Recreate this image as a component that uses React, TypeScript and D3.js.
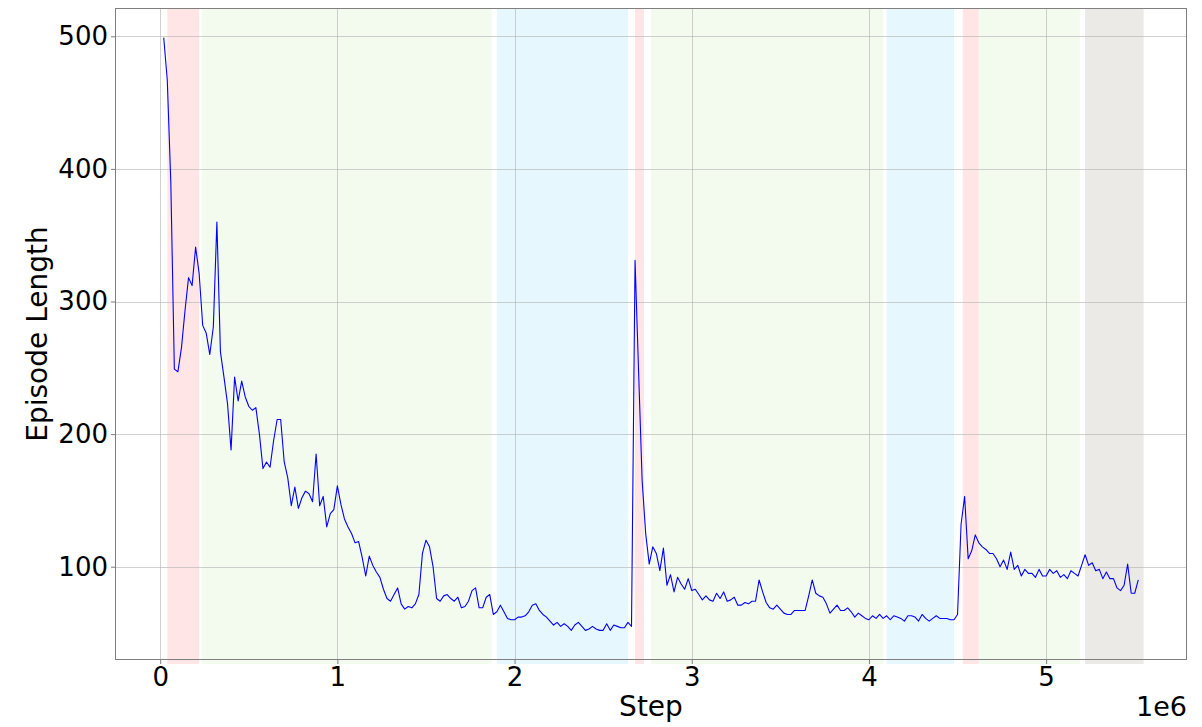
import React, { useRef, useEffect } from 'react';
import * as d3 from 'd3';

// episode length, one value every 20000 steps starting at 20000
const episodeLength: number[] = [
  499, 467, 390, 249, 247, 265, 293, 318, 312, 341,
  321, 282, 276, 260, 281, 360, 262, 243, 223, 188,
  243, 225, 240, 228, 221, 218, 220, 200, 174, 179,
  175, 195, 211, 211, 179, 167, 146, 160, 144, 152,
  157, 155, 149, 185, 146, 153, 130, 140, 143, 161,
  147, 136, 130, 125, 118, 119, 107, 93, 108, 101,
  96, 92, 83, 76, 74, 79, 84, 72, 68, 70,
  69, 72, 79, 110, 120, 115, 100, 76, 74, 78,
  79, 76, 74, 77, 69, 70, 74, 82, 84, 69,
  69, 77, 79, 64, 66, 71, 66, 61, 60, 60,
  62, 62, 63, 66, 71, 72, 67, 64, 62, 59,
  56, 58, 55, 57, 55, 52, 56, 58, 55, 52,
  53, 55, 53, 52, 52, 57, 52, 56, 55, 54,
  54, 58, 55, 331, 247, 165, 125, 102, 115, 110,
  97, 114, 86, 94, 81, 92, 87, 83, 91, 82,
  83, 79, 75, 78, 75, 74, 80, 76, 81, 74,
  75, 77, 71, 71, 73, 72, 74, 74, 90, 81,
  73, 69, 68, 71, 68, 65, 64, 64, 67, 67,
  67, 67, 78, 90, 80, 78, 77, 72, 65, 68,
  71, 67, 67, 69, 66, 62, 65, 63, 61, 60,
  63, 61, 64, 61, 63, 60, 63, 62, 61, 59,
  63, 63, 62, 59, 64, 61, 59, 61, 63, 61,
  61, 61, 60, 60, 64, 132, 153, 106, 112, 124,
  118, 115, 113, 110, 110, 106, 100, 105, 98, 111,
  98, 101, 93, 98, 95, 95, 92, 98, 93, 93,
  98, 95, 97, 92, 94, 91, 97, 95, 93, 101,
  109, 101, 103, 97, 98, 91, 96, 91, 91, 84,
  82, 86, 102, 80, 80, 90,
];

// shaded phases (step ranges)
const bandStart = [40000, 235000, 1900000, 2680000, 2770000, 4100000, 4530000, 4620000, 5220000];
const bandEnd = [220000, 1870000, 2640000, 2730000, 4080000, 4480000, 4620000, 5190000, 5550000];
const bandColor = ['#ffe5e5', '#f3faee', '#e7f7fe', '#ffe5e5', '#f3faee', '#e7f7fe', '#ffe5e5', '#f3faee', '#eceae6'];

const xTicks = [0, 1e6, 2e6, 3e6, 4e6, 5e6];
const yTicks = [100, 200, 300, 400, 500];

const W = 1202;
const H = 727;

const App: React.FC = () => {
  const svgRef = useRef<SVGSVGElement>(null);

  useEffect(() => {
    if (!svgRef.current) return;
    const svg = d3.select(svgRef.current);
    svg.selectAll('*').remove();

    const margin = { top: 8, right: 15, bottom: 67, left: 115 };
    const innerWidth = W - margin.left - margin.right;
    const innerHeight = H - margin.top - margin.bottom;

    const data = episodeLength.map((v, i) => ({ step: (i + 1) * 20000, len: v }));

    // matplotlib-ish 5% margins
    const xMin = d3.min(data, d => d.step) as number;
    const xMax = d3.max(data, d => d.step) as number;
    const yMin = d3.min(data, d => d.len) as number;
    const yMax = d3.max(data, d => d.len) as number;
    const xPad = (xMax - xMin) * 0.05;
    const yPad = (yMax - yMin) * 0.05;

    const xScale = d3.scaleLinear().domain([-0.255e6, 5.795e6]).range([0, innerWidth]);
    const yScale = d3.scaleLinear().domain([yMin - yPad, yMax + yPad]).range([innerHeight, 0]);
    void xPad;

    const g = svg.append('g').attr('transform', `translate(${margin.left},${margin.top})`);

    // phase bands
    g.selectAll('.band')
      .data(bandStart.map((s, i) => ({ s, e: bandEnd[i], c: bandColor[i] })))
      .enter()
      .append('rect')
      .attr('class', 'band')
      .attr('x', d => xScale(d.s))
      .attr('width', d => xScale(d.e) - xScale(d.s))
      .attr('y', 0)
      .attr('height', innerHeight + 4)
      .attr('fill', d => d.c);

    // grid
    g.append('g')
      .selectAll('line')
      .data(yTicks)
      .enter()
      .append('line')
      .attr('x1', 0)
      .attr('x2', innerWidth)
      .attr('y1', d => Math.round(yScale(d)) + 0.5)
      .attr('y2', d => Math.round(yScale(d)) + 0.5)
      .attr('stroke', '#b0b0b0')
      .attr('stroke-opacity', 0.6)
      .attr('stroke-width', 1);

    g.append('g')
      .selectAll('line')
      .data(xTicks)
      .enter()
      .append('line')
      .attr('y1', 0)
      .attr('y2', innerHeight)
      .attr('x1', d => Math.round(xScale(d)) + 0.5)
      .attr('x2', d => Math.round(xScale(d)) + 0.5)
      .attr('stroke', '#b0b0b0')
      .attr('stroke-opacity', 0.6)
      .attr('stroke-width', 1);

    // line
    const line = d3.line<{ step: number; len: number }>()
      .x(d => xScale(d.step))
      .y(d => yScale(d.len));

    g.append('path')
      .datum(data)
      .attr('fill', 'none')
      .attr('stroke', '#0000ff')
      .attr('stroke-width', 1.1)
      .attr('stroke-linejoin', 'round')
      .attr('d', line);

    // frame
    g.append('rect')
      .attr('x', 0.5)
      .attr('y', 0.5)
      .attr('width', innerWidth - 1)
      .attr('height', innerHeight - 1)
      .attr('fill', 'none')
      .attr('stroke', '#7f7f7f')
      .attr('stroke-width', 1);

    // axes
    const xAxis = g.append('g')
      .attr('transform', `translate(0,${innerHeight})`)
      .call(d3.axisBottom(xScale).tickValues(xTicks).tickSize(4).tickFormat(d => `${(d as number) / 1e6}`));
    xAxis.select('.domain').remove();
    xAxis.selectAll('line').attr('stroke', '#7f7f7f');
    xAxis.selectAll('text')
      .attr('dy', '0.71em')
      .attr('y', 8)
      .style('font-family', '"DejaVu Sans", sans-serif')
      .style('font-size', '26px')
      .style('fill', '#000');

    const yAxis = g.append('g')
      .call(d3.axisLeft(yScale).tickValues(yTicks).tickSize(4));
    yAxis.select('.domain').remove();
    yAxis.selectAll('line').attr('stroke', '#7f7f7f');
    yAxis.selectAll('text')
      .attr('x', -7)
      .style('font-family', '"DejaVu Sans", sans-serif')
      .style('font-size', '26px')
      .style('fill', '#000');

    // labels
    svg.append('text')
      .attr('x', margin.left + innerWidth / 2)
      .attr('y', 716)
      .attr('text-anchor', 'middle')
      .style('font-family', '"DejaVu Sans", sans-serif')
      .style('font-size', '28px')
      .text('Step');

    svg.append('text')
      .attr('transform', `translate(47,${margin.top + innerHeight / 2}) rotate(-90)`)
      .attr('text-anchor', 'middle')
      .style('font-family', '"DejaVu Sans", sans-serif')
      .style('font-size', '28px')
      .text('Episode Length');

    svg.append('text')
      .attr('x', margin.left + innerWidth)
      .attr('y', 716)
      .attr('text-anchor', 'end')
      .style('font-family', '"DejaVu Sans", sans-serif')
      .style('font-size', '27px')
      .text('1e6');
  }, []);

  return (
    <div style={{ position: 'absolute', left: 0, top: 0 }}>
      <svg ref={svgRef} width={W} height={H} style={{ display: 'block', background: '#fff' }}></svg>
    </div>
  );
};

export default App;
